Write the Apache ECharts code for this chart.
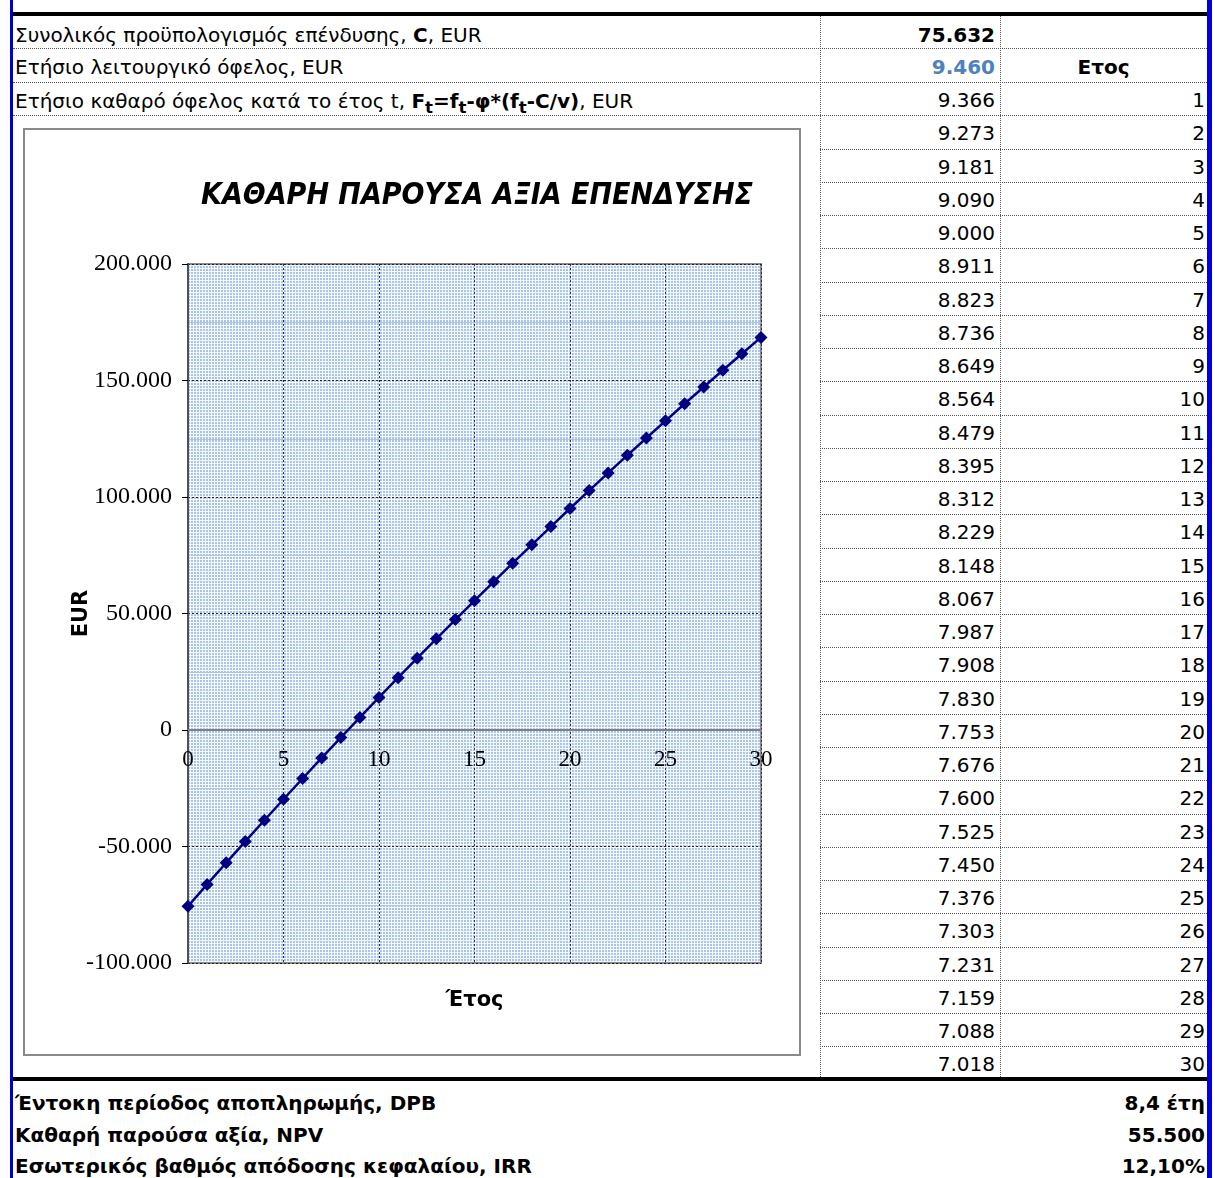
<!DOCTYPE html>
<html>
<head>
<meta charset="utf-8">
<script src="https://cdn.jsdelivr.net/npm/echarts@6/dist/echarts.min.js"></script>
<style>
  body { margin: 0; background: #fff; font-family: 'DejaVu Sans', sans-serif; color: #000; }
  #page { position: relative; width: 1215px; height: 1178px; overflow: hidden; }
  .abs { position: absolute; }
  .hline { position: absolute; height: 0; border-top: 1px dotted #555; }
  .vline { position: absolute; width: 0; border-left: 1px dotted #555; }
  .txt { position: absolute; font-size: 20px; white-space: nowrap; line-height: 33px; }
  .r { text-align: right; }
  .b { font-weight: bold; }
  #box { position: absolute; left: 23px; top: 128px; width: 774px; height: 924px; border: 2px solid #8a8a8a; background: #fff; }
  #chart { width: 774px; height: 924px; }
</style>
</head>
<body>
<div id="page">
  <div id="box"><div id="chart"></div></div>
</div>
<script>
// header rows (label, value)
const topLabels = [
  'Συνολικός προϋπολογισμός επένδυσης, <b>C</b>, EUR',
  'Ετήσιο λειτουργικό όφελος, EUR',
  'Ετήσιο καθαρό όφελος κατά το έτος t, <b>F<sub>t</sub>=f<sub>t</sub>-φ*(f<sub>t</sub>-C/v)</b>, EUR'
];
const investment = 75632;
const annualBenefit = 9460;

// table: year and net benefit F_t
const years = [1, 2, 3, 4, 5, 6, 7, 8, 9, 10, 11, 12, 13, 14, 15, 16, 17, 18, 19, 20,
  21, 22, 23, 24, 25, 26, 27, 28, 29, 30];
const netBenefit = [9366, 9273, 9181, 9090, 9000, 8911, 8823, 8736, 8649, 8564,
  8479, 8395, 8312, 8229, 8148, 8067, 7987, 7908, 7830, 7753,
  7676, 7600, 7525, 7450, 7376, 7303, 7231, 7159, 7088, 7018];

// chart series: year vs cumulative value (EUR)
const chartYears = [0, 1, 2, 3, 4, 5, 6, 7, 8, 9, 10, 11, 12, 13, 14, 15, 16, 17, 18, 19, 20,
  21, 22, 23, 24, 25, 26, 27, 28, 29, 30];
const chartValues = [-75632, -66266, -56993, -47812, -38722, -29722, -20811, -11988, -3252, 5397,
  13961, 22440, 30835, 39147, 47376, 55524, 63591, 71578, 79486, 87316,
  95069, 102745, 110345, 117870, 125320, 132696, 139999, 147230, 154389, 161477, 168495];

// summary rows
const summaryLabels = ['Έντοκη περίοδος αποπληρωμής, DPB', 'Καθαρή παρούσα αξία, NPV', 'Εσωτερικός βαθμός απόδοσης κεφαλαίου, IRR'];
const summaryValues = ['8,4 έτη', '55.500', '12,10%'];

const fmt = n => {
  const s = String(Math.abs(Math.round(n))).replace(/\B(?=(\d{3})+(?!\d))/g, '.');
  return (n < 0 ? '-' : '') + s;
};

const page = document.getElementById('page');
function add(cls, css, html) {
  const d = document.createElement('div');
  d.className = cls;
  Object.assign(d.style, css);
  if (html !== undefined) d.innerHTML = html;
  page.insertBefore(d, document.getElementById('box'));
  return d;
}

// frame
add('abs', { left: '10px', top: '0px', width: '3px', height: '1178px', background: '#0000cc' });
add('abs', { left: '1207px', top: '0px', width: '5px', height: '1178px', background: '#0000e0' });
add('abs', { left: '13px', top: '12px', width: '1194px', height: '4px', background: '#000' });
add('abs', { left: '13px', top: '1077px', width: '1194px', height: '4px', background: '#000' });

// header rows
const rowTop = [16, 48, 82];
[48, 82, 115].forEach(y => add('hline', { left: '13px', top: y + 'px', width: '1194px' }));
add('vline', { left: '820px', top: '16px', height: '1061px' });
add('vline', { left: '1000px', top: '16px', height: '1061px' });
topLabels.forEach((t, i) => add('txt', { left: '15px', top: (rowTop[i] + 3) + 'px' }, t));
add('txt r b', { left: '820px', width: '175px', top: (rowTop[0] + 3) + 'px' }, fmt(investment));
add('txt r b', { left: '820px', width: '175px', top: (rowTop[1] + 3) + 'px', color: '#4f81bd' }, fmt(annualBenefit));
add('txt b', { left: '1000px', width: '207px', top: (rowTop[1] + 3) + 'px', textAlign: 'center' }, 'Ετος');

// yearly table
const rowH = 33.25;
years.forEach((yr, i) => {
  const top = 82 + i * rowH;
  if (i > 0) add('hline', { left: '820px', top: top + 'px', width: '387px' });
  add('txt r', { left: '820px', width: '175px', top: (top + 2) + 'px' }, fmt(netBenefit[i]));
  add('txt r', { left: '1000px', width: '205px', top: (top + 2) + 'px' }, String(yr));
});

// summary
summaryLabels.forEach((t, i) => {
  const top = 1087 + i * 31.5;
  add('txt b', { left: '15px', top: top + 'px' }, t);
  add('txt r b', { left: '900px', width: '305px', top: top + 'px' }, summaryValues[i]);
});

// dotted plot background
const tile = document.createElement('canvas');
tile.width = 3; tile.height = 3;
const tctx = tile.getContext('2d');
tctx.fillStyle = '#f6f9fd';
tctx.fillRect(0, 0, 3, 3);
tctx.fillStyle = '#a9c4ea';
tctx.fillRect(1, 1, 2, 2);

// grid & y range; the x axis crosses the y axis at zero
const GRID = { left: 163, top: 134, right: 38, bottom: 91 };
const Y_MIN = -100000, Y_MAX = 200000;
const plotH = 924 - GRID.top - GRID.bottom;
const zeroOffset = -plotH * (0 - Y_MIN) / (Y_MAX - Y_MIN);

const chart = echarts.init(document.getElementById('chart'));
chart.setOption({
  animation: false,
  title: {
    text: 'ΚΑΘΑΡΗ ΠΑΡΟΥΣΑ ΑΞΙΑ ΕΠΕΝΔΥΣΗΣ',
    left: 447,
    top: 46,
    textAlign: 'center',
    textStyle: { fontFamily: 'DejaVu Sans Condensed', fontWeight: 'bold', fontStyle: 'italic', fontSize: 30, color: '#000' }
  },
  grid: Object.assign({
    outerBoundsMode: 'none',
    containLabel: false,
    show: true,
    backgroundColor: { image: tile, repeat: 'repeat' },
    borderColor: '#8a8a8a',
    borderWidth: 2
  }, GRID),
  xAxis: [{
    type: 'value',
    position: 'bottom',
    offset: zeroOffset,
    min: 0, max: 30, interval: 5,
    axisLine: { onZero: false, lineStyle: { color: '#808080', width: 2 } },
    axisTick: { show: false },
    axisLabel: { margin: 18, fontFamily: 'Liberation Serif', fontSize: 23, color: '#000' },
    splitLine: { show: true, lineStyle: { color: '#333', type: [2, 2], width: 1 } }
  }, {
    type: 'value',
    position: 'bottom',
    min: 0, max: 30, interval: 5,
    name: 'Έτος',
    nameLocation: 'middle',
    nameGap: 27,
    nameMoveOverlap: false,
    nameTextStyle: { fontFamily: 'DejaVu Sans', fontWeight: 'bold', fontSize: 21, color: '#000' },
    axisLine: { show: false, onZero: false },
    axisTick: { show: false },
    axisLabel: { show: false },
    splitLine: { show: false }
  }],
  yAxis: {
    type: 'value',
    min: Y_MIN, max: Y_MAX, interval: 50000,
    name: 'EUR',
    nameLocation: 'middle',
    nameRotate: 90,
    nameGap: 96,
    nameMoveOverlap: false,
    nameTextStyle: { fontFamily: 'DejaVu Sans', fontWeight: 'bold', fontSize: 21, color: '#000' },
    axisLine: { show: true, onZero: false, lineStyle: { color: '#505050', width: 2 } },
    axisTick: { show: true, inside: false, length: 6, lineStyle: { color: '#000' } },
    axisLabel: { margin: 16, fontFamily: 'Liberation Serif', fontSize: 24, color: '#000', formatter: v => fmt(v) },
    splitLine: { show: true, lineStyle: { color: '#222', type: [2, 2], width: 1 } },
    minorTick: { show: false, splitNumber: 2 },
    minorSplitLine: { show: true, lineStyle: { color: '#b0c4e0', width: 1 } }
  },
  series: [{
    type: 'line',
    xAxisIndex: 0,
    data: chartYears.map((x, i) => [x, chartValues[i]]),
    symbol: 'diamond',
    symbolSize: 13,
    lineStyle: { color: '#000080', width: 2.5 },
    itemStyle: { color: '#000080' }
  }]
});
</script>
</body>
</html>
